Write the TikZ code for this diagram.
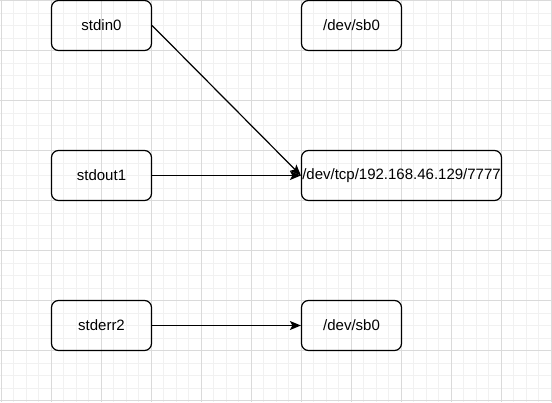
\documentclass[tikz,border=0pt]{standalone}
\usepackage{fontspec}
\setmainfont{Liberation Sans}
\usetikzlibrary{arrows.meta}
\definecolor{gridminor}{HTML}{F1F1F1}
\definecolor{gridmajor}{HTML}{DADADA}
\begin{document}
\begin{tikzpicture}[x=1pt, y=-1pt,
   every node/.style={draw, rounded corners=7pt, line width=1.2pt,
     minimum width=100pt, minimum height=50pt, inner sep=0pt,
     font=\fontsize{15}{18}\selectfont},
   wide/.style={minimum width=200pt},
   link/.style={line width=1.2pt, -{Stealth[length=11pt, width=9pt, inset=2.5pt]}},
   minor/.style={gridminor, line width=0.8pt},
   major/.style={gridmajor, line width=0.8pt}]

\useasboundingbox (0,0) rectangle (552,402);
\fill[white] (0,0) rectangle (552,402);
% background grid
\foreach \k in {0,...,44} \draw[minor] (1+12.5*\k,0) -- (1+12.5*\k,402);
\foreach \k in {0,...,32} \draw[minor] (0,0.5+12.5*\k) -- (552,0.5+12.5*\k);
\foreach \k in {0,...,11} \draw[major] (1+50*\k,0) -- (1+50*\k,402);
\foreach \k in {0,...,8} \draw[major] (0,0.5+50*\k) -- (552,0.5+50*\k);

\node (stdin)  at (101.5,25.5)  {stdin0};
\node (stdout) at (101.5,175.5) {stdout1};
\node (stderr) at (101.5,325.5) {stderr2};
\node (sbtop)  at (351.5,25.5)  {/dev/sb0};
\node[wide] (tcp) at (401.5,175.5) {/dev/tcp/192.168.46.129/7777};
\node (sbbot)  at (351.5,325.5) {/dev/sb0};

\draw[link] (stdin.east) -- (tcp.west);
\draw[link] (stdout) -- (tcp);
\draw[link] (stderr) -- (sbbot);

\end{tikzpicture}
\end{document}
